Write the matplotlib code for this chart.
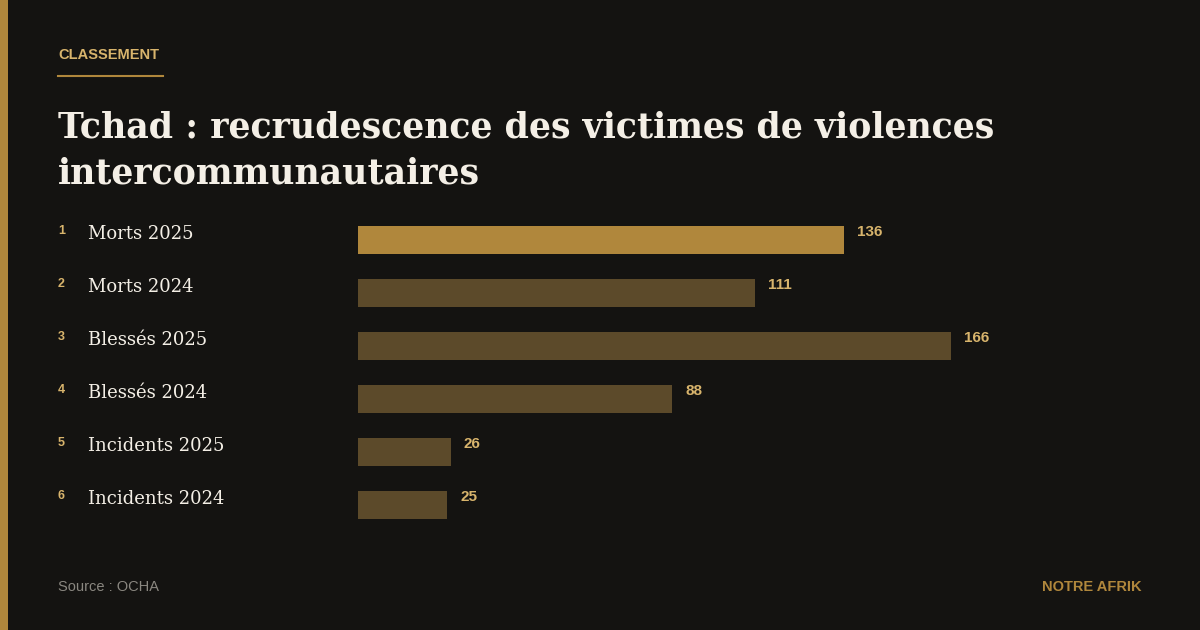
import matplotlib.pyplot as plt
from matplotlib.patches import Rectangle

categories = ["Morts 2025", "Morts 2024", "Blessés 2025", "Blessés 2024",
              "Incidents 2025", "Incidents 2024"]
values = [136, 111, 166, 88, 26, 25]
highlight = 0

W, H = 1200, 630
BG = "#141311"
GOLD = "#b0873c"
DARK = "#5c4a2a"
NUM = "#d8b46c"


def fx(px):
    return px / W


def fy(py):
    return 1 - py / H


fig = plt.figure(figsize=(12, 6.3), dpi=100, facecolor=BG)

# left stripe
fig.patches.append(Rectangle((0, 0), fx(8), 1, transform=fig.transFigure,
                             facecolor=GOLD, edgecolor="none"))

fig.text(fx(58), fy(55), "CLASSEMENT", color=NUM, fontsize=10.5,
         fontweight="bold", family="Liberation Sans", va="center")
fig.lines.append(plt.Line2D([fx(58), fx(163)], [fy(76), fy(76)],
                            transform=fig.transFigure, color=GOLD, lw=1.5))

fig.text(fx(58), fy(128), "Tchad : recrudescence des victimes de violences",
         color="#f4efe6", fontsize=25, fontweight="bold",
         family="DejaVu Serif", va="center")
fig.text(fx(58), fy(173), "intercommunautaires",
         color="#f4efe6", fontsize=25, fontweight="bold",
         family="DejaVu Serif", va="center")

# bar axes: 6 rows of 53px starting at y=213.5
ax = fig.add_axes([fx(358), fy(531.5), fx(1100 - 358), 318 / H])
ax.set_facecolor("none")
scale = 593 / 166
ax.set_xlim(0, 742 / scale)
ax.set_ylim(5.5, -0.5)
ys = list(range(len(values)))
colors = [GOLD if i == highlight else DARK for i in ys]
ax.barh(ys, values, height=28 / 53, color=colors)
for i, v in enumerate(values):
    ax.text(v + 13 / scale, i - 0.16, str(v), color=NUM, fontsize=11,
            fontweight="bold", family="Liberation Sans", va="center")
    py = 240 + 53 * i
    fig.text(fx(58), fy(py - 9), str(i + 1), color=NUM, fontsize=9,
             fontweight="bold", family="Liberation Sans", va="center")
    fig.text(fx(88), fy(py - 6), categories[i], color="#f4efe6",
             fontsize=13, family="DejaVu Serif", va="center")
ax.axis("off")

fig.text(fx(58), fy(587), "Source : OCHA", color="#8a8780", fontsize=10.5,
         family="Liberation Sans", va="center")
fig.text(fx(1142), fy(587), "NOTRE AFRIK", color=GOLD, fontsize=10.5,
         fontweight="bold", family="Liberation Sans", va="center", ha="right")

fig.savefig("out.png", dpi=100, facecolor=BG)
